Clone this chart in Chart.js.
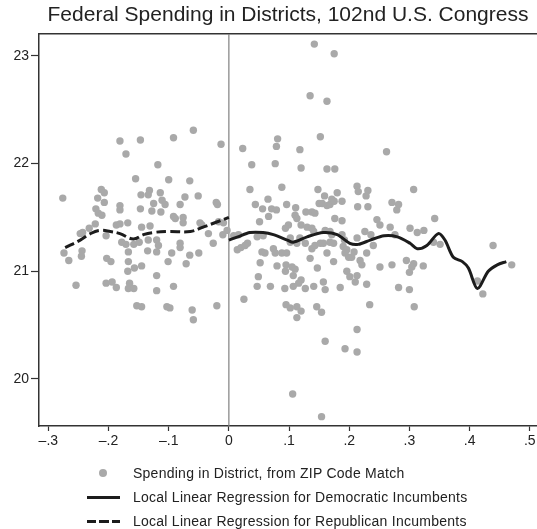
<!DOCTYPE html>
<html>
<head>
<meta charset="utf-8">
<script src="https://cdn.jsdelivr.net/npm/chart.js@4.4.1/dist/chart.umd.min.js"></script>
<style>
  body { margin: 0; background: #fff; }
  #wrap { position: relative; width: 537px; height: 529px; }
  .lg { position: absolute; font: 14px "Liberation Sans", Arial, sans-serif; letter-spacing: 0.25px; color: #222; line-height: 16px; white-space: nowrap; }
  .mk { position: absolute; }
</style>
</head>
<body>
<div id="wrap">
  <canvas id="chart" width="537" height="529"></canvas>
  <div class="mk" style="left:99px;top:469px;width:8px;height:8px;border-radius:50%;background:#a9a9a9"></div>
  <div class="lg" style="left:133px;top:465px">Spending in District, from ZIP Code Match</div>
  <div class="mk" style="left:87px;top:495.5px;width:33px;height:3px;background:#1c1c1c"></div>
  <div class="lg" style="left:133px;top:489px">Local Linear Regression for Democratic Incumbents</div>
  <div class="mk" style="left:87px;top:519.5px;width:33px;height:3px;background:repeating-linear-gradient(90deg,#1c1c1c 0 9px,transparent 9px 12.5px)"></div>
  <div class="lg" style="left:133px;top:513px">Local Linear Regression for Republican Incumbents</div>
</div>
<script>
// tick positions and labels
const xTickValues = [-0.3, -0.2, -0.1, 0, 0.1, 0.2, 0.3, 0.4, 0.5];
const xTickLabels = ['\u2013.3', '\u2013.2', '\u2013.1', '0', '.1', '.2', '.3', '.4', '.5'];
const yTickValues = [20, 21, 22, 23];

// spending in district (vote margin, log spending)
const spendingPoints = [
  [-0.276,21.68],[-0.181,22.21],[-0.147,22.22],[-0.171,22.09],[-0.118,21.99],[-0.155,21.86],[-0.100,21.85],
  [-0.212,21.76],[-0.207,21.73],[-0.218,21.68],[-0.207,21.64],[-0.221,21.58],[-0.217,21.54],[-0.211,21.52],
  [-0.181,21.61],[-0.181,21.57],[-0.146,21.71],[-0.132,21.75],[-0.134,21.71],[-0.114,21.73],[-0.125,21.63],
  [-0.111,21.66],[-0.106,21.62],[-0.147,21.58],[-0.128,21.56],[-0.113,21.55],[-0.222,21.44],[-0.232,21.40],
  [-0.247,21.35],[-0.243,21.36],[-0.187,21.43],[-0.181,21.44],[-0.168,21.45],[-0.145,21.41],[-0.131,21.42],
  [-0.204,21.33],[-0.178,21.27],[-0.171,21.25],[-0.158,21.25],[-0.149,21.27],[-0.134,21.29],[-0.120,21.29],
  [-0.167,21.18],[-0.135,21.19],[-0.117,21.24],[-0.120,21.18],[-0.274,21.17],[-0.266,21.10],[-0.244,21.19],
  [-0.245,21.14],[-0.203,21.12],[-0.196,21.09],[-0.167,21.09],[-0.168,21.00],[-0.157,21.03],[-0.145,21.05],
  [-0.120,20.96],[-0.101,21.09],[-0.254,20.87],[-0.204,20.89],[-0.194,20.90],[-0.187,20.85],[-0.165,20.89],
  [-0.167,20.84],[-0.158,20.84],[-0.120,20.82],[-0.153,20.68],[-0.145,20.67],[-0.103,20.67],[-0.098,20.66],
  [-0.059,22.31],[-0.092,22.24],[-0.013,22.18],[-0.065,21.84],[-0.073,21.69],[-0.051,21.70],[-0.081,21.62],
  [-0.021,21.64],[-0.019,21.62],[-0.092,21.51],[-0.089,21.49],[-0.076,21.50],[-0.076,21.45],[-0.048,21.45],
  [-0.045,21.43],[-0.034,21.35],[-0.017,21.46],[-0.009,21.45],[-0.010,21.34],[-0.003,21.38],[-0.081,21.26],
  [-0.081,21.22],[-0.095,21.17],[-0.065,21.15],[-0.050,21.17],[-0.071,21.07],[-0.026,21.26],[-0.092,20.86],
  [-0.061,20.64],[-0.059,20.55],[-0.020,20.68],
  [0.023,22.14],[0.038,21.99],[0.081,22.23],[0.079,22.16],[0.077,22.00],[0.035,21.76],[0.088,21.78],
  [0.044,21.62],[0.056,21.58],[0.065,21.67],[0.071,21.58],[0.079,21.57],[0.096,21.62],[0.066,21.51],
  [0.051,21.46],[0.008,21.33],[0.016,21.34],[0.031,21.26],[0.047,21.32],[0.057,21.33],[0.014,21.20],
  [0.020,21.22],[0.027,21.24],[0.055,21.18],[0.060,21.17],[0.074,21.21],[0.077,21.17],[0.088,21.17],
  [0.096,21.17],[0.052,21.08],[0.080,21.05],[0.095,21.06],[0.094,21.00],[0.049,20.95],[0.047,20.86],
  [0.069,20.86],[0.093,20.84],[0.025,20.74],[0.095,20.69],[0.102,20.66],[0.113,20.67],[0.113,20.57],
  [0.120,20.63],[0.146,20.67],[0.154,20.62],[0.234,20.69],[0.160,20.35],[0.193,20.28],[0.213,20.46],
  [0.213,20.25],[0.106,19.86],[0.154,19.65],[0.142,23.11],[0.175,23.02],[0.135,22.63],[0.163,22.58],
  [0.152,22.25],[0.118,22.13],[0.262,22.11],[0.120,21.96],[0.163,21.95],[0.176,21.95],[0.148,21.76],
  [0.159,21.70],[0.171,21.67],[0.180,21.73],[0.150,21.63],[0.155,21.63],[0.163,21.61],[0.168,21.62],
  [0.175,21.65],[0.188,21.65],[0.213,21.79],[0.215,21.74],[0.231,21.75],[0.228,21.70],[0.214,21.60],
  [0.231,21.60],[0.271,21.64],[0.282,21.62],[0.279,21.57],[0.111,21.59],[0.110,21.52],[0.113,21.49],
  [0.128,21.55],[0.138,21.55],[0.143,21.54],[0.176,21.49],[0.188,21.47],[0.099,21.43],[0.094,21.40],
  [0.120,21.43],[0.130,21.41],[0.138,21.40],[0.141,21.37],[0.160,21.38],[0.168,21.37],[0.171,21.34],
  [0.188,21.34],[0.192,21.29],[0.226,21.37],[0.246,21.48],[0.251,21.43],[0.268,21.41],[0.276,21.34],
  [0.236,21.34],[0.240,21.24],[0.213,21.31],[0.102,21.31],[0.102,21.27],[0.113,21.26],[0.118,21.31],
  [0.127,21.26],[0.138,21.21],[0.143,21.24],[0.152,21.26],[0.157,21.26],[0.163,21.17],[0.168,21.27],
  [0.174,21.26],[0.190,21.23],[0.196,21.20],[0.193,21.17],[0.199,21.13],[0.204,21.13],[0.208,21.18],
  [0.218,21.10],[0.221,21.06],[0.229,21.17],[0.251,21.04],[0.271,21.06],[0.105,21.04],[0.110,21.02],
  [0.107,20.96],[0.135,21.12],[0.147,21.03],[0.174,21.09],[0.196,21.00],[0.201,20.95],[0.213,20.96],
  [0.120,20.92],[0.116,20.89],[0.107,20.86],[0.127,20.84],[0.141,20.86],[0.157,20.90],[0.160,20.83],
  [0.185,20.85],[0.210,20.90],[0.229,20.88],[0.282,20.85],[0.307,21.76],[0.342,21.49],[0.301,21.40],
  [0.313,21.36],[0.324,21.38],[0.340,21.27],[0.351,21.25],[0.439,21.24],[0.295,21.10],[0.307,21.07],
  [0.304,21.04],[0.300,20.99],[0.323,21.05],[0.470,21.06],[0.300,20.83],[0.413,20.91],[0.422,20.79],
  [0.308,20.67]
];

// local linear regression, democratic incumbents
const demX = [0.000, 0.015, 0.035, 0.057, 0.074, 0.097, 0.107, 0.130, 0.157, 0.180, 0.201, 0.215, 0.235, 0.258,
  0.280, 0.301, 0.313, 0.329, 0.348, 0.359, 0.373, 0.388, 0.398, 0.413, 0.431, 0.446, 0.461];
const demY = [21.29, 21.32, 21.36, 21.36, 21.34, 21.29, 21.27, 21.32, 21.36, 21.34, 21.26, 21.25, 21.29, 21.33,
  21.32, 21.26, 21.21, 21.24, 21.35, 21.29, 21.13, 21.09, 21.03, 20.84, 21.00, 21.06, 21.09];

// local linear regression, republican incumbents
const repX = [-0.272, -0.247, -0.230, -0.214, -0.197, -0.181, -0.159, -0.142, -0.126, -0.101, -0.064, -0.043, -0.019, 0.000];
const repY = [21.22, 21.29, 21.35, 21.38, 21.37, 21.35, 21.30, 21.34, 21.36, 21.37, 21.37, 21.41, 21.46, 21.50];

const fontFamily = '"Liberation Sans", Arial, Helvetica, sans-serif';
const axisColor = '#333';

// thin gray line at the cutoff (x = 0)
const cutoffLine = {
  id: 'cutoffLine',
  beforeDatasetsDraw(chart) {
    const {ctx, chartArea, scales} = chart;
    const px = scales.x.getPixelForValue(0);
    ctx.save();
    ctx.strokeStyle = '#808080';
    ctx.lineWidth = 1.2;
    ctx.beginPath();
    ctx.moveTo(px, chartArea.top);
    ctx.lineTo(px, chartArea.bottom);
    ctx.stroke();
    ctx.restore();
  }
};

// no extra room for the outer tick labels
function noSidePadding(s) {
  s.paddingLeft = 0;
  s.paddingRight = 0;
}

new Chart(document.getElementById('chart'), {
  type: 'scatter',
  data: {
    datasets: [
      {
        type: 'line',
        label: 'Local Linear Regression for Democratic Incumbents',
        data: demX.map((x, i) => ({x: x, y: demY[i]})),
        borderColor: '#1c1c1c',
        borderWidth: 3,
        pointRadius: 0,
        tension: 0.3,
        fill: false,
        order: 1
      },
      {
        type: 'line',
        label: 'Local Linear Regression for Republican Incumbents',
        data: repX.map((x, i) => ({x: x, y: repY[i]})),
        borderColor: '#1c1c1c',
        borderWidth: 3,
        borderDash: [10, 4],
        pointRadius: 0,
        tension: 0.4,
        fill: false,
        order: 2
      },
      {
        label: 'Spending in District, from ZIP Code Match',
        data: spendingPoints.map(p => ({x: p[0], y: p[1]})),
        backgroundColor: '#a9a9a9',
        borderWidth: 0,
        pointRadius: 3.7,
        order: 3
      }
    ]
  },
  options: {
    responsive: false,
    animation: false,
    layout: {autoPadding: false, padding: {left: 0, right: 0, top: 0, bottom: 78}},
    plugins: {
      legend: {display: false},
      tooltip: {enabled: false},
      title: {
        display: true,
        text: 'Federal Spending in Districts, 102nd U.S. Congress',
        fullSize: false,
        color: '#222',
        font: {family: fontFamily, size: 21, weight: 'normal'},
        padding: {top: 3, bottom: 5.8}
      }
    },
    scales: {
      x: {
        type: 'linear',
        position: 'bottom',
        min: -0.3155,
        max: 0.512,
        afterBuildTicks: s => { s.ticks = xTickValues.map(v => ({value: v})); },
        afterFit: s => { s.height = 25; noSidePadding(s); },
        ticks: {
          autoSkip: false,
          maxRotation: 0,
          padding: 2,
          color: '#222',
          font: {family: fontFamily, size: 14},
          callback: (v, i) => xTickLabels[i]
        },
        grid: {display: true, drawOnChartArea: false, drawTicks: true, tickLength: 5, tickColor: axisColor, tickWidth: 1.2},
        border: {display: true, color: axisColor, width: 1.5}
      },
      x2: {
        type: 'linear',
        position: 'top',
        min: -0.3155,
        max: 0.512,
        afterFit: s => { s.height = 0; noSidePadding(s); },
        ticks: {display: false},
        grid: {display: false},
        border: {display: true, color: axisColor, width: 1.5}
      },
      y: {
        type: 'linear',
        min: 19.563,
        max: 23.204,
        afterBuildTicks: s => { s.ticks = yTickValues.map(v => ({value: v})); },
        afterFit: s => { s.width = 39; s.paddingTop = 0; s.paddingBottom = 0; },
        ticks: {
          padding: 2,
          color: '#222',
          font: {family: fontFamily, size: 14},
          callback: v => String(v)
        },
        grid: {display: true, drawOnChartArea: false, drawTicks: true, tickLength: 8, tickColor: axisColor, tickWidth: 1.2},
        border: {display: true, color: axisColor, width: 1.5}
      }
    }
  },
  plugins: [cutoffLine]
});
</script>
</body>
</html>
